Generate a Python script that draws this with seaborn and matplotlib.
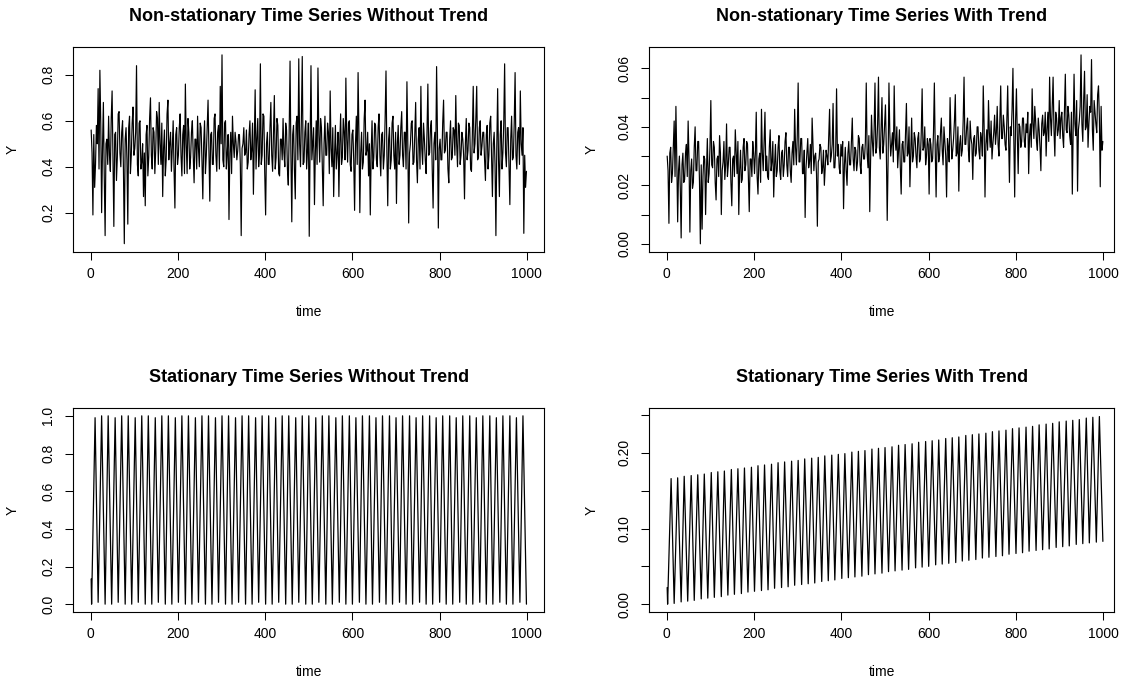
import numpy as np
import pandas as pd
import matplotlib
matplotlib.use("Agg")
import matplotlib.pyplot as plt
import seaborn as sns

# ---- data ----
# non-stationary series, read every 2 time steps
ns_time = list(range(1, 1000, 2))

ns_no_trend = [
    0.56, 0.46, 0.19, 0.54, 0.31, 0.41, 0.58, 0.50, 0.74, 0.39, 0.82, 0.59, 0.20, 0.48, 0.68, 0.36, 0.10, 0.50, 0.52, 0.41, 0.62, 0.45, 0.38, 0.61, 0.73,
    0.43, 0.14, 0.54, 0.55, 0.34, 0.44, 0.63, 0.64, 0.46, 0.40, 0.55, 0.60, 0.39, 0.065, 0.52, 0.57, 0.43, 0.15, 0.57, 0.62, 0.37, 0.45, 0.59, 0.66, 0.45,
    0.48, 0.55, 0.84, 0.41, 0.36, 0.59, 0.60, 0.39, 0.42, 0.50, 0.27, 0.46, 0.23, 0.54, 0.58, 0.36, 0.44, 0.61, 0.70, 0.45, 0.39, 0.57, 0.55, 0.37, 0.47,
    0.64, 0.61, 0.41, 0.68, 0.50, 0.41, 0.59, 0.27, 0.48, 0.56, 0.36, 0.43, 0.63, 0.69, 0.43, 0.50, 0.55, 0.38, 0.48, 0.60, 0.39, 0.22, 0.54, 0.57, 0.41,
    0.45, 0.57, 0.63, 0.45, 0.36, 0.54, 0.58, 0.37, 0.76, 0.50, 0.37, 0.61, 0.55, 0.39, 0.44, 0.55, 0.60, 0.45, 0.33, 0.52, 0.52, 0.39, 0.62, 0.48, 0.40,
    0.59, 0.57, 0.43, 0.26, 0.50, 0.60, 0.37, 0.45, 0.57, 0.69, 0.46, 0.25, 0.54, 0.55, 0.41, 0.41, 0.61, 0.63, 0.45, 0.38, 0.55, 0.58, 0.39, 0.75, 0.50,
    0.887, 0.43, 0.40, 0.59, 0.60, 0.39, 0.46, 0.54, 0.17, 0.46, 0.55, 0.37, 0.62, 0.50, 0.44, 0.55, 0.51, 0.43, 0.47, 0.54, 0.54, 0.41, 0.10, 0.48, 0.50,
    0.57, 0.45, 0.46, 0.56, 0.39, 0.42, 0.54, 0.60, 0.43, 0.47, 0.59, 0.28, 0.50, 0.735, 0.39, 0.52, 0.61, 0.40, 0.46, 0.848, 0.41, 0.45, 0.63, 0.62, 0.37,
    0.19, 0.50, 0.55, 0.41, 0.41, 0.57, 0.68, 0.45, 0.38, 0.54, 0.71, 0.39, 0.44, 0.61, 0.58, 0.37, 0.36, 0.52, 0.52, 0.43, 0.61, 0.46, 0.40, 0.59, 0.56,
    0.39, 0.32, 0.55, 0.86, 0.45, 0.16, 0.54, 0.58, 0.39, 0.26, 0.59, 0.62, 0.43, 0.87, 0.50, 0.40, 0.61, 0.88, 0.41, 0.42, 0.55, 0.60, 0.39, 0.47, 0.59,
    0.097, 0.50, 0.84, 0.43, 0.50, 0.57, 0.235, 0.46, 0.60, 0.41, 0.83, 0.54, 0.42, 0.61, 0.57, 0.39, 0.23, 0.50, 0.62, 0.45, 0.45, 0.59, 0.55, 0.37, 0.73,
    0.48, 0.40, 0.57, 0.27, 0.45, 0.58, 0.39, 0.46, 0.55, 0.27, 0.50, 0.63, 0.41, 0.44, 0.61, 0.55, 0.43, 0.786, 0.52, 0.42, 0.59, 0.60, 0.41, 0.38, 0.54,
    0.56, 0.43, 0.21, 0.50, 0.62, 0.41, 0.81, 0.54, 0.20, 0.46, 0.55, 0.39, 0.42, 0.61, 0.69, 0.45, 0.47, 0.55, 0.36, 0.50, 0.19, 0.46, 0.60, 0.39, 0.44,
    0.59, 0.58, 0.43, 0.40, 0.57, 0.63, 0.45, 0.36, 0.54, 0.55, 0.39, 0.45, 0.61, 0.817, 0.46, 0.23, 0.52, 0.57, 0.39, 0.43, 0.59, 0.62, 0.45, 0.39, 0.55,
    0.24, 0.50, 0.58, 0.41, 0.45, 0.57, 0.64, 0.45, 0.40, 0.55, 0.55, 0.39, 0.77, 0.50, 0.155, 0.46, 0.50, 0.59, 0.60, 0.41, 0.42, 0.54, 0.68, 0.43, 0.33,
    0.52, 0.57, 0.39, 0.75, 0.48, 0.41, 0.59, 0.52, 0.43, 0.37, 0.55, 0.76, 0.45, 0.46, 0.57, 0.60, 0.39, 0.22, 0.50, 0.55, 0.43, 0.836, 0.54, 0.133, 0.48,
    0.52, 0.43, 0.43, 0.59, 0.69, 0.46, 0.47, 0.55, 0.55, 0.39, 0.33, 0.52, 0.60, 0.43, 0.44, 0.57, 0.56, 0.45, 0.71, 0.50, 0.40, 0.59, 0.58, 0.41, 0.45,
    0.55, 0.52, 0.45, 0.26, 0.50, 0.61, 0.43, 0.47, 0.59, 0.57, 0.39, 0.38, 0.54, 0.75, 0.46, 0.50, 0.61, 0.75, 0.43, 0.44, 0.57, 0.60, 0.45, 0.49, 0.55,
    0.55, 0.43, 0.34, 0.54, 0.58, 0.39, 0.45, 0.59, 0.62, 0.45, 0.27, 0.50, 0.55, 0.41, 0.10, 0.48, 0.74, 0.43, 0.27, 0.54, 0.60, 0.39, 0.46, 0.59, 0.848,
    0.46, 0.40, 0.57, 0.57, 0.41, 0.235, 0.52, 0.62, 0.43, 0.44, 0.59, 0.81, 0.45, 0.39, 0.55, 0.57, 0.41, 0.73, 0.50, 0.45, 0.57, 0.11, 0.45, 0.31, 0.38,
]

ns_trend = [
    0.030, 0.025, 0.007, 0.031, 0.033, 0.021, 0.024, 0.033, 0.042, 0.023, 0.047, 0.029, 0.0075, 0.025, 0.030, 0.019, 0.002, 0.027, 0.031, 0.021, 0.022, 0.031, 0.034, 0.023, 0.042,
    0.029, 0.004, 0.025, 0.029, 0.019, 0.021, 0.033, 0.040, 0.025, 0.025, 0.035, 0.035, 0.021, 0.000, 0.027, 0.005, 0.023, 0.030, 0.029, 0.010, 0.025, 0.036, 0.021, 0.024, 0.033,
    0.049, 0.027, 0.026, 0.035, 0.033, 0.021, 0.015, 0.029, 0.030, 0.023, 0.037, 0.031, 0.010, 0.025, 0.028, 0.035, 0.022, 0.027, 0.041, 0.023, 0.027, 0.033, 0.033, 0.021, 0.013,
    0.029, 0.030, 0.023, 0.039, 0.031, 0.024, 0.035, 0.010, 0.025, 0.032, 0.021, 0.022, 0.033, 0.036, 0.025, 0.027, 0.035, 0.034, 0.023, 0.011, 0.029, 0.029, 0.023, 0.035, 0.031,
    0.024, 0.031, 0.045, 0.023, 0.017, 0.029, 0.031, 0.021, 0.046, 0.031, 0.025, 0.035, 0.045, 0.025, 0.030, 0.023, 0.022, 0.033, 0.039, 0.025, 0.028, 0.035, 0.016, 0.027, 0.034,
    0.023, 0.025, 0.033, 0.037, 0.025, 0.022, 0.031, 0.032, 0.023, 0.027, 0.035, 0.038, 0.027, 0.023, 0.033, 0.033, 0.025, 0.021, 0.031, 0.035, 0.027, 0.046, 0.033, 0.027, 0.037,
    0.055, 0.028, 0.028, 0.036, 0.036, 0.024, 0.024, 0.032, 0.009, 0.026, 0.031, 0.036, 0.026, 0.028, 0.034, 0.024, 0.043, 0.034, 0.025, 0.030, 0.031, 0.024, 0.006, 0.028, 0.029,
    0.034, 0.033, 0.024, 0.026, 0.032, 0.020, 0.026, 0.032, 0.030, 0.027, 0.036, 0.046, 0.028, 0.030, 0.034, 0.048, 0.026, 0.026, 0.032, 0.053, 0.030, 0.034, 0.026, 0.024, 0.034,
    0.030, 0.035, 0.012, 0.027, 0.033, 0.025, 0.020, 0.031, 0.035, 0.027, 0.027, 0.035, 0.043, 0.029, 0.025, 0.033, 0.032, 0.025, 0.028, 0.037, 0.036, 0.027, 0.024, 0.033, 0.034,
    0.029, 0.029, 0.035, 0.055, 0.031, 0.026, 0.037, 0.011, 0.029, 0.044, 0.035, 0.030, 0.039, 0.055, 0.031, 0.033, 0.041, 0.057, 0.033, 0.029, 0.039, 0.050, 0.031, 0.034, 0.041,
    0.0475, 0.032, 0.008, 0.028, 0.055, 0.038, 0.030, 0.034, 0.038, 0.028, 0.054, 0.036, 0.032, 0.040, 0.026, 0.032, 0.039, 0.026, 0.017, 0.034, 0.035, 0.028, 0.028, 0.038, 0.048,
    0.030, 0.031, 0.040, 0.0195, 0.032, 0.043, 0.028, 0.030, 0.038, 0.036, 0.030, 0.026, 0.036, 0.038, 0.028, 0.029, 0.038, 0.053, 0.032, 0.033, 0.040, 0.027, 0.030, 0.036, 0.034,
    0.017, 0.036, 0.034, 0.028, 0.029, 0.038, 0.055, 0.032, 0.016, 0.034, 0.037, 0.028, 0.030, 0.038, 0.043, 0.032, 0.027, 0.040, 0.035, 0.030, 0.016, 0.036, 0.033, 0.028, 0.050,
    0.038, 0.029, 0.032, 0.036, 0.042, 0.051, 0.030, 0.031, 0.040, 0.018, 0.034, 0.037, 0.030, 0.032, 0.042, 0.057, 0.034, 0.034, 0.040, 0.043, 0.032, 0.028, 0.042, 0.036, 0.034,
    0.022, 0.036, 0.037, 0.030, 0.031, 0.040, 0.040, 0.032, 0.029, 0.038, 0.036, 0.030, 0.054, 0.040, 0.016, 0.034, 0.039, 0.032, 0.049, 0.038, 0.033, 0.042, 0.029, 0.034, 0.038,
    0.044, 0.034, 0.038, 0.047, 0.034, 0.030, 0.042, 0.054, 0.036, 0.036, 0.044, 0.040, 0.034, 0.032, 0.042, 0.054, 0.036, 0.021, 0.040, 0.037, 0.046, 0.060, 0.036, 0.016, 0.042,
    0.053, 0.037, 0.024, 0.041, 0.040, 0.033, 0.035, 0.043, 0.043, 0.035, 0.033, 0.041, 0.038, 0.045, 0.024, 0.037, 0.041, 0.033, 0.053, 0.041, 0.036, 0.047, 0.042, 0.035, 0.032,
    0.043, 0.039, 0.033, 0.025, 0.041, 0.044, 0.037, 0.038, 0.045, 0.030, 0.039, 0.045, 0.035, 0.057, 0.043, 0.037, 0.047, 0.057, 0.039, 0.030, 0.045, 0.043, 0.037, 0.039, 0.049,
    0.036, 0.043, 0.045, 0.037, 0.033, 0.045, 0.058, 0.039, 0.038, 0.047, 0.044, 0.037, 0.034, 0.045, 0.017, 0.039, 0.058, 0.041, 0.037, 0.049, 0.018, 0.039, 0.042, 0.047, 0.0646,
    0.041, 0.035, 0.049, 0.059, 0.039, 0.040, 0.051, 0.033, 0.041, 0.047, 0.045, 0.063, 0.039, 0.032, 0.049, 0.045, 0.041, 0.038, 0.051, 0.054, 0.043, 0.0195, 0.047, 0.032, 0.035,
]

# stationary series: turning points of the oscillation
wave_start_t = 1
wave_trough_t = [2, 17, 33, 48, 63, 79, 94, 109, 125, 140, 155, 171, 186, 201, 217, 232, 247, 263, 278, 293,
                 309, 324, 339, 355, 370, 385, 401, 416, 431, 447, 462, 477, 493, 508, 523, 539, 554, 570, 585, 600,
                 616, 631, 646, 662, 677, 692, 708, 723, 738, 754, 769, 784, 800, 815, 830, 846, 861, 876, 892, 907,
                 922, 938, 953, 968, 984, 999]
wave_peak_t = [10, 25, 40, 56, 71, 86, 102, 117, 132, 148, 163, 178, 194, 209, 224, 240, 255, 270, 286, 301,
               316, 332, 347, 362, 378, 393, 408, 424, 439, 454, 470, 485, 500, 516, 531, 546, 562, 577, 593, 608,
               623, 639, 654, 669, 685, 700, 715, 731, 746, 761, 777, 792, 807, 823, 838, 853, 869, 884, 899, 915,
               930, 945, 961, 976, 991]

st_start = 0.134
st_troughs = [0.00, 0.01, 0.00, 0.00, 0.01, 0.00, 0.00, 0.01, 0.00, 0.00, 0.01, 0.00, 0.00, 0.01, 0.00, 0.00, 0.01, 0.00, 0.00, 0.01,
              0.00, 0.00, 0.01, 0.00, 0.00, 0.01, 0.00, 0.00, 0.01, 0.00, 0.00, 0.01, 0.00, 0.00, 0.01, 0.00, 0.00, 0.01, 0.00, 0.00,
              0.01, 0.00, 0.00, 0.01, 0.00, 0.00, 0.01, 0.00, 0.00, 0.01, 0.00, 0.00, 0.01, 0.00, 0.00, 0.01, 0.00, 0.00, 0.01, 0.00,
              0.00, 0.01, 0.00, 0.00, 0.01, 0.00]
st_peaks = [0.99, 1.00, 1.00, 0.99, 1.00, 1.00, 0.99, 1.00, 1.00, 0.99, 1.00, 1.00, 0.99, 1.00, 1.00, 0.99, 1.00, 1.00, 0.99, 1.00,
            1.00, 0.99, 1.00, 1.00, 0.99, 1.00, 1.00, 0.99, 1.00, 1.00, 0.99, 1.00, 1.00, 0.99, 1.00, 1.00, 0.99, 1.00, 1.00, 0.99,
            1.00, 1.00, 0.99, 1.00, 1.00, 0.99, 1.00, 1.00, 0.99, 1.00, 1.00, 0.99, 1.00, 1.00, 0.99, 1.00, 1.00, 0.99, 1.00, 1.00,
            0.99, 1.00, 1.00, 0.99, 1.00]

st_tr_start = 0.022
st_tr_troughs = [0.000, 0.001, 0.003, 0.004, 0.005, 0.007, 0.008, 0.009, 0.010, 0.012, 0.013,
                 0.014, 0.016, 0.017, 0.018, 0.019, 0.021, 0.022, 0.023, 0.025, 0.026,
                 0.027, 0.028, 0.030, 0.031, 0.032, 0.034, 0.035, 0.036, 0.037, 0.039,
                 0.040, 0.041, 0.043, 0.044, 0.045, 0.046, 0.048, 0.049, 0.050, 0.052,
                 0.053, 0.054, 0.055, 0.057, 0.058, 0.059, 0.061, 0.062, 0.063, 0.064,
                 0.066, 0.067, 0.068, 0.070, 0.071, 0.072, 0.073, 0.075, 0.076, 0.077,
                 0.079, 0.080, 0.081, 0.082, 0.083]
st_tr_peaks = [0.166, 0.167, 0.169, 0.170, 0.171, 0.172, 0.174, 0.175, 0.176, 0.178,
               0.179, 0.180, 0.181, 0.183, 0.184, 0.185, 0.187, 0.188, 0.189, 0.190,
               0.192, 0.193, 0.194, 0.196, 0.197, 0.198, 0.199, 0.201, 0.202, 0.203,
               0.205, 0.206, 0.207, 0.208, 0.210, 0.211, 0.212, 0.214, 0.215, 0.216,
               0.217, 0.219, 0.220, 0.221, 0.223, 0.224, 0.225, 0.226, 0.228, 0.229,
               0.230, 0.232, 0.233, 0.234, 0.235, 0.237, 0.238, 0.239, 0.241, 0.242,
               0.243, 0.244, 0.246, 0.247, 0.248]

x_ticks = [0, 200, 400, 600, 800, 1000]

yt_no_trend = [0.2, 0.4, 0.6, 0.8]
yl_no_trend = ["0.2", "0.4", "0.6", "0.8"]
yt_trend = [0.00, 0.01, 0.02, 0.03, 0.04, 0.05, 0.06]
yl_trend = ["0.00", "", "0.02", "", "0.04", "", "0.06"]
yt_st = [0.0, 0.2, 0.4, 0.6, 0.8, 1.0]
yl_st = ["0.0", "0.2", "0.4", "0.6", "0.8", "1.0"]
yt_st_tr = [0.00, 0.05, 0.10, 0.15, 0.20, 0.25]
yl_st_tr = ["0.00", "", "0.10", "", "0.20", ""]


def zigzag(start_v, troughs, peaks):
    t = [wave_start_t]
    v = [start_v]
    for i in range(len(wave_trough_t)):
        t.append(wave_trough_t[i])
        v.append(troughs[i])
        if i < len(wave_peak_t):
            t.append(wave_peak_t[i])
            v.append(peaks[i])
    return pd.DataFrame({"time": t, "Y": v})


sns.set_style("ticks")
plt.rcParams['font.family'] = ['Liberation Sans', 'DejaVu Sans']
plt.rcParams['text.color'] = 'black'
plt.rcParams['axes.labelcolor'] = 'black'
plt.rcParams['axes.titlecolor'] = 'black'

fig = plt.figure(figsize=(11.22, 6.81), dpi=100)
W, H = 1122, 681


def make_ax(left, top, right, bottom):
    return fig.add_axes([left / W, 1 - bottom / H, (right - left) / W, (bottom - top) / H])


def panel(ax, df, title, ylim, yticks, ylabels, ylab_x, lw):
    sns.lineplot(data=df, x="time", y="Y", ax=ax, color="black", linewidth=lw,
                 sort=False, estimator=None)
    ax.set_xlim(-39.96, 1039.96)
    ax.set_ylim(*ylim)
    ax.set_xticks(x_ticks)
    ax.set_xticklabels([str(v) for v in x_ticks])
    ax.set_yticks(yticks)
    ax.set_yticklabels(ylabels, rotation=90, va="center")
    for s in ax.spines.values():
        s.set_visible(True)
        s.set_linewidth(0.8)
        s.set_color("black")
    ax.tick_params(direction="out", length=6, width=0.75, labelsize=10,
                   colors="black", labelcolor="black")
    ax.tick_params(axis="x", pad=5)
    ax.tick_params(axis="y", pad=7)
    ax.set_title(title, fontweight="bold", fontsize=13, pad=19, color="black")
    ax.set_xlabel("time", fontsize=10, color="black")
    ax.set_ylabel("Y", fontsize=10, color="black")
    ax.xaxis.set_label_coords(0.5, -0.26)
    ax.yaxis.set_label_coords(ylab_x, 0.5)


ax1 = make_ax(73.3, 47.3, 544.3, 251.7)
panel(ax1, pd.DataFrame({"time": ns_time, "Y": ns_no_trend}),
      "Non-stationary Time Series Without Trend", (0.030, 0.920), yt_no_trend, yl_no_trend, -0.113, 0.85)

ax2 = make_ax(649.3, 47.3, 1114.0, 251.7)
panel(ax2, pd.DataFrame({"time": ns_time, "Y": ns_trend}),
      "Non-stationary Time Series With Trend", (-0.0027, 0.0672), yt_trend, yl_trend, -0.108, 0.85)
ax2.set_xlim(-39.96, 1024.5)

ax3 = make_ax(73.3, 408.3, 544.3, 611.7)
panel(ax3, zigzag(st_start, st_troughs, st_peaks),
      "Stationary Time Series Without Trend", (-0.04, 1.04), yt_st, yl_st, -0.113, 0.9)

ax4 = make_ax(649.3, 408.3, 1114.0, 611.7)
panel(ax4, zigzag(st_tr_start, st_tr_troughs, st_tr_peaks),
      "Stationary Time Series With Trend", (-0.00996, 0.2589), yt_st_tr, yl_st_tr, -0.108, 0.9)
ax4.set_xlim(-39.96, 1024.5)

fig.savefig("out.png", dpi=100)
